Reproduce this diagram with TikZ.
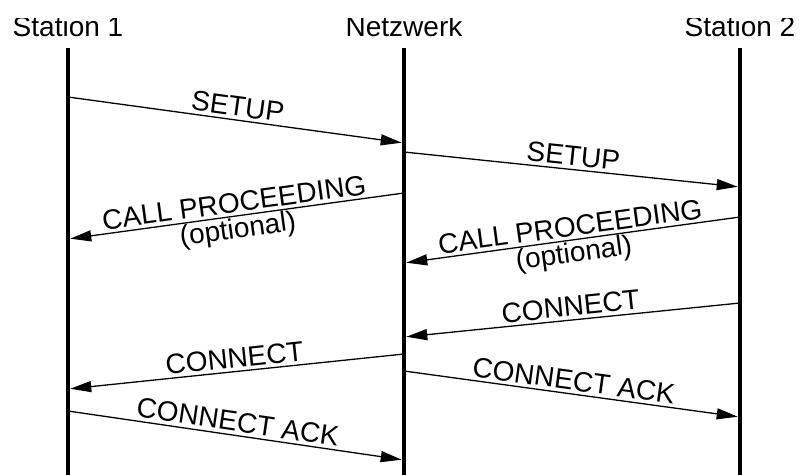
\documentclass[tikz,border=0pt]{standalone}
\usepackage{fontspec}
\setmainfont{Liberation Sans}
\usetikzlibrary{arrows.meta}
\begin{document}
\begin{tikzpicture}[x=1pt,y=-1pt,
  lifeline/.style={line width=4.5pt},
  msg/.style={line width=1.3pt,-{Triangle[length=21pt,width=11pt]},shorten >=2.3pt},
  title/.style={font=\fontsize{28}{30}\selectfont,anchor=base,inner sep=0pt},
  lbl/.style={font=\fontsize{28}{30}\selectfont,sloped,inner sep=3pt,pos=0.5},
]
\useasboundingbox (0,0) rectangle (800,475);

% headings, trimmed along the top edge
\begin{scope}
  \clip (0,18.5) rectangle (800,475);
  \node[title] (st1) at (68,36) {Station 1};
  \node[title] (net) at (404,36) {Netzwerk};
  \node[title] (st2) at (740,36) {Station 2};
\end{scope}

% lifelines
\coordinate (l1t) at (68,48);  \coordinate (l1b) at (68,475);
\coordinate (l2t) at (404,48); \coordinate (l2b) at (404,475);
\coordinate (l3t) at (740,48); \coordinate (l3b) at (740,475);
\draw[lifeline] (l1t) -- (l1b);
\draw[lifeline] (l2t) -- (l2b);
\draw[lifeline] (l3t) -- (l3b);

% message end points
\coordinate (m1a) at (68,97);   \coordinate (m1b) at (404,143);
\coordinate (m2a) at (404,152); \coordinate (m2b) at (740,187);
\coordinate (m3a) at (404,193); \coordinate (m3b) at (68,239);
\coordinate (m4a) at (740,217); \coordinate (m4b) at (404,263);
\coordinate (m5a) at (740,303); \coordinate (m5b) at (404,337);
\coordinate (m6a) at (404,354); \coordinate (m6b) at (68,389);
\coordinate (m7a) at (404,371); \coordinate (m7b) at (740,417);
\coordinate (m8a) at (68,411);  \coordinate (m8b) at (404,460);

% messages
\draw[msg] (m1a) -- node[lbl,above] (t1) {SETUP} (m1b);
\draw[msg] (m2a) -- node[lbl,above] (t2) {SETUP} (m2b);
\draw[msg] (m3a) -- node[lbl,above] (t3) {CALL PROCEEDING}
                    node[lbl,below,inner sep=1pt] (t3o) {(optional)} (m3b);
\draw[msg] (m4a) -- node[lbl,above] (t4) {CALL PROCEEDING}
                    node[lbl,below,inner sep=1pt] (t4o) {(optional)} (m4b);
\draw[msg] (m5a) -- node[lbl,above] (t5) {CONNECT} (m5b);
\draw[msg] (m6a) -- node[lbl,above] (t6) {CONNECT} (m6b);
\draw[msg] (m7a) -- node[lbl,above] (t7) {CONNECT ACK} (m7b);
\draw[msg] (m8a) -- node[lbl,above] (t8) {CONNECT ACK} (m8b);
\end{tikzpicture}
\end{document}
